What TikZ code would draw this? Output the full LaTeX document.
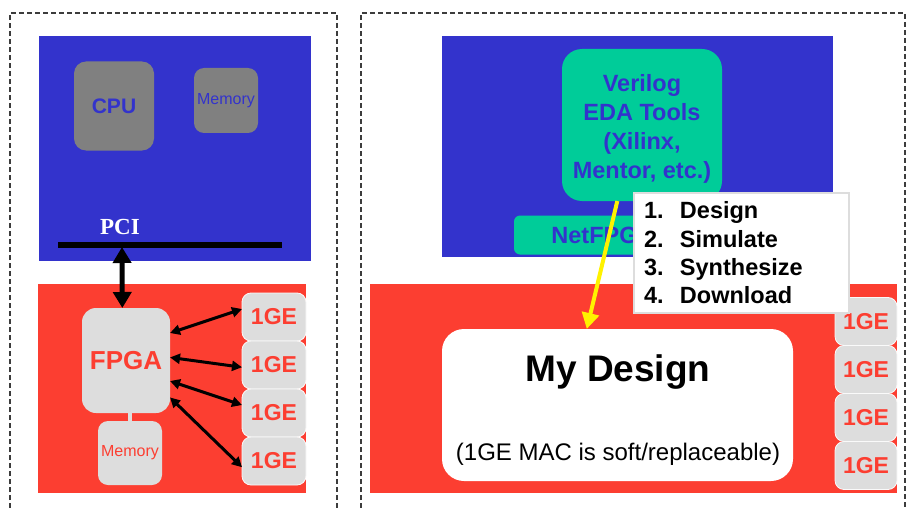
\documentclass[tikz,border=0pt]{standalone}
\usepackage{fontspec}
\setmainfont{Liberation Sans}
\newfontfamily\busfont{Liberation Serif}
\usetikzlibrary{arrows.meta,calc}

\definecolor{boardblue}{RGB}{51,51,204}
\definecolor{boardred}{RGB}{252,62,49}
\definecolor{chipgray}{RGB}{128,128,128}
\definecolor{chiplight}{RGB}{221,221,221}
\definecolor{toolgreen}{RGB}{0,204,153}
\definecolor{frameline}{RGB}{60,60,60}

\tikzset{
  panel/.style={fill=#1, inner sep=0pt, outer sep=0pt},
  chip/.style={rounded corners=#1, inner sep=0pt, outer sep=0pt},
  portbox/.style={chip=9pt, fill=chiplight, draw=white!85!chiplight, line width=0.8pt,
    text=boardred, minimum width=64pt, minimum height=48pt,
    font=\fontsize{23}{26}\selectfont\bfseries},
  frame/.style={draw=frameline, line width=1.2pt, dash pattern=on 5pt off 3pt},
  link/.style={line width=3pt, {Triangle[length=10pt,width=10pt]}-{Triangle[length=10pt,width=10pt]}},
}

\begin{document}
\begin{tikzpicture}[x=1pt,y=-1pt]
\useasboundingbox (0,0) rectangle (915,508);

% dashed outlines of the two halves (open at the bottom)
\draw[frame] (10,508) -- (10,13) -- (337,13) -- (337,508);
\draw[frame] (361,508) -- (361,13) -- (905,13) -- (905,508);

% ---------- left half: host PC with NIC card ----------
\node[panel=boardblue, minimum width=272pt, minimum height=225pt] (host) at (175,148.5) {};
\node[chip=12pt, fill=chipgray, text=boardblue, minimum width=80pt, minimum height=89pt,
      font=\fontsize{21}{24}\selectfont\bfseries] (cpu) at (114,106) {CPU};
\node[chip=10pt, fill=chipgray, text=boardblue, minimum width=64pt, minimum height=65pt,
      font=\fontsize{16}{19}\selectfont] (hostmem) at (226,100.5) {Memory};

\node[text=white, font=\busfont\fontsize{23}{26}\selectfont\bfseries] (pcilabel) at (120,227) {PCI};
\coordinate (busL) at (58,245);
\coordinate (busR) at (282,245);
\draw[line width=6pt] (busL) -- (busR);
\coordinate (pcitap) at (122,247);

\node[panel=boardred, minimum width=268pt, minimum height=209pt] (card) at (172,388.5) {};
\node[chip=14pt, fill=chiplight, text=boardred, minimum width=88pt, minimum height=105pt,
      font=\fontsize{26}{30}\selectfont\bfseries] (fpga) at (126,360.5) {FPGA};
\node[chip=10pt, fill=chiplight, text=boardred, minimum width=64pt, minimum height=64pt,
      font=\fontsize{16}{19}\selectfont] (cardmem) at (130,453) {Memory};
\draw[chiplight, line width=3.5pt] (cardmem.north) -- (cardmem.north |- fpga.south);

\node[portbox] (ge1) at (274,317) {1GE};
\node[portbox] (ge2) at (274,365) {1GE};
\node[portbox] (ge3) at (274,413) {1GE};
\node[portbox] (ge4) at (274,461) {1GE};

\draw[line width=5pt, {Triangle[length=16pt,width=18pt]}-{Triangle[length=16pt,width=18pt]}]
  (pcitap) -- (fpga.94);
\draw[link] (fpga.32) -- (ge1.166);
\draw[link] (fpga.4) -- (ge2.184);
\draw[link] (fpga.-25) -- (ge3.166);
\draw[link] (fpga.-40) -- (ge4.191);

% ---------- right half: design flow onto the NetFPGA ----------
\node[panel=boardblue, minimum width=391pt, minimum height=221pt] (devhost) at (637.5,146.5) {};
\node[chip=20pt, fill=toolgreen, minimum width=160pt, minimum height=152pt] (tools) at (642,125) {};
\node[text=boardblue, align=center, font=\fontsize{23.5}{29}\selectfont\bfseries] (toolstext) at (642,129)
      {Verilog\\EDA Tools\\(Xilinx,\\Mentor, etc.)};
\node[chip=6pt, fill=toolgreen, text=boardblue, minimum width=178pt, minimum height=39pt,
      font=\fontsize{23.5}{28}\selectfont\bfseries] (netfpga) at (603,235) {NetFPGA};

\node[panel=boardred, minimum width=527pt, minimum height=209pt] (board) at (633.5,388.5) {};
\node[chip=22pt, fill=white, minimum width=351pt, minimum height=152pt] (mydesign) at (617.5,405) {};
\node[font=\fontsize{37}{40}\selectfont\bfseries] (mdtitle) at (618,372) {My Design};
\node[font=\fontsize{24}{27}\selectfont] (mdnote) at (618,454) {(1GE MAC is soft/replaceable)};

\node[portbox, minimum width=62pt] (gr1) at (866,321.5) {1GE};
\node[portbox, minimum width=62pt] (gr2) at (866,369.5) {1GE};
\node[portbox, minimum width=62pt] (gr3) at (866,417.5) {1GE};
\node[portbox, minimum width=62pt] (gr4) at (866,465.5) {1GE};

\draw[yellow, line width=4pt, -{Triangle[length=16pt,width=17pt]}] (tools.-108) -- (mydesign.112.5);

\node[fill=white, draw=chiplight, line width=2pt, inner xsep=10pt, inner ysep=0pt,
      minimum height=120pt, text width=195pt, align=left,
      font=\fontsize{23.5}{28.3}\selectfont\bfseries] (steps) at (741.5,253)
      {\makebox[36pt][l]{1.}Design\\
       \makebox[36pt][l]{2.}Simulate\\
       \makebox[36pt][l]{3.}Synthesize\\
       \makebox[36pt][l]{4.}Download};
\end{tikzpicture}
\end{document}
